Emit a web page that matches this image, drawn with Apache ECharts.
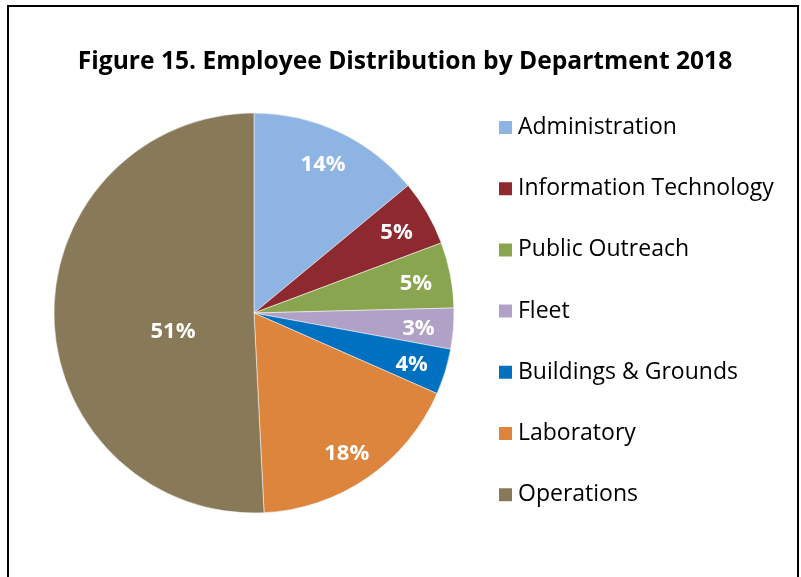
<!DOCTYPE html>
<html>
<head>
<meta charset="utf-8">
<script src="https://cdn.jsdelivr.net/npm/echarts@6/dist/echarts.min.js"></script>
<style>
html,body{margin:0;padding:0;background:#fff;}
#frame{position:absolute;left:7px;top:5px;width:792px;height:700px;box-sizing:border-box;border:2px solid #000;}
#chart{position:absolute;left:0;top:0;width:801px;height:577px;}
</style>
</head>
<body>
<div id="frame"></div>
<div id="chart"></div>
<script>
const titleText = 'Figure 15. Employee Distribution by Department 2018';
const categories = ['Administration','Information Technology','Public Outreach','Fleet','Buildings & Grounds','Laboratory','Operations'];
const values = [14.0, 5.3, 5.3, 3.3, 3.7, 17.6, 50.8];
const colors = ['#8EB4E3','#8E2A2F','#8AA550','#B2A1C7','#0070C0','#DD843D','#887A59'];

const data = categories.map((c, i) => ({ name: c, value: values[i] }));
const total = values.reduce((a, b) => a + b, 0);
const fmtSmall = p => (p.value / total < 0.3 ? Math.round(p.value / total * 100) + '%' : '');
const fmtLarge = p => (p.value / total >= 0.3 ? Math.round(p.value / total * 100) + '%' : '');
const labelStyle = { color: '#fff', fontFamily: 'Open Sans', fontWeight: 'bold', fontSize: 22 };

const chart = echarts.init(document.getElementById('chart'), null, { renderer: 'canvas' });
chart.setOption({
  animation: false,
  color: colors,
  title: {
    text: titleText,
    left: 405, top: 49, textAlign: 'center', padding: 0,
    textStyle: { fontFamily: 'Open Sans', fontWeight: 'bold', fontSize: 24.6, color: '#000' }
  },
  legend: {
    orient: 'vertical',
    left: 497, top: 116, padding: 0,
    itemWidth: 15, itemHeight: 15, itemGap: 38.2,
    icon: 'rect',
    data: categories,
    textStyle: { fontFamily: 'Open Sans', fontSize: 23, color: '#000' }
  },
  series: [
    {
      type: 'pie', center: [254, 313], radius: [0, 200], startAngle: 90, clockwise: true,
      data: data, label: { show: false }, labelLine: { show: false },
      itemStyle: { borderColor: '#fff', borderWidth: 0.5 }
    },
    {
      type: 'pie', center: [254, 313], radius: [0, 328], startAngle: 90, clockwise: true, silent: true,
      data: data, labelLine: { show: false },
      itemStyle: { color: 'rgba(0,0,0,0)' },
      label: Object.assign({ show: true, position: 'inside', formatter: fmtSmall, offset: [-2, 3] }, labelStyle)
    },
    {
      type: 'pie', center: [254, 313], radius: [0, 166], startAngle: 90, clockwise: true, silent: true,
      data: data, labelLine: { show: false },
      itemStyle: { color: 'rgba(0,0,0,0)' },
      label: Object.assign({ show: true, position: 'inside', formatter: fmtLarge, offset: [5, 17] }, labelStyle)
    }
  ]
});
</script>
</body>
</html>
